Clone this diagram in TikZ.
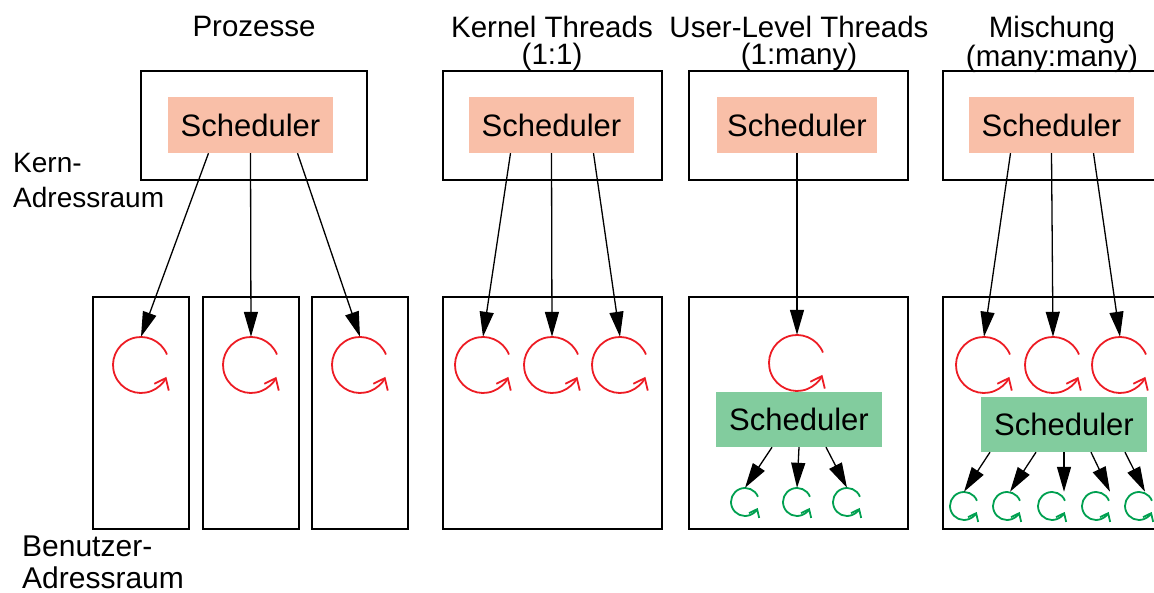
\documentclass[tikz,border=0pt]{standalone}
\usepackage{fontspec}
\setmainfont{Liberation Sans}
\usetikzlibrary{arrows.meta,calc}
\definecolor{kernfill}{RGB}{249,191,168}
\definecolor{userfill}{RGB}{130,204,158}
\definecolor{thrred}{RGB}{237,28,36}
\definecolor{thrgreen}{RGB}{0,160,80}
\tikzset{
  raum/.style={draw, line width=1.5pt, inner sep=0pt},
  kbox/.style={raum, minimum height=109pt},
  ubox/.style={raum, minimum height=232pt},
  ksched/.style={fill=kernfill, minimum width=165pt, minimum height=56pt, inner sep=0pt, font=\fontsize{31}{31}\selectfont},
  usched/.style={fill=userfill, minimum width=166pt, minimum height=55pt, inner sep=0pt, font=\fontsize{31}{31}\selectfont},
  kthr/.style={circle, inner sep=0pt, minimum size=56pt},
  uthr/.style={circle, inner sep=0pt, minimum size=28pt},
  conn/.style={line width=1.3pt, -{Triangle[length=25pt,width=14pt]}},
  titel/.style={align=center, anchor=north, inner sep=0pt, font=\fontsize{29.5}{27}\selectfont},
}
% kreis mit pfeil fuer einen thread: knoten, radius, farbe, spitze
\newcommand{\thrloop}[4]{%
  \draw[#3, line width=1.8pt, -{Straight Barb[length=#4,width=1.6*#4]}]
    ($(#1.center)+(22:#2)$) arc[start angle=22, end angle=335, radius=#2];}

\begin{document}
\begin{tikzpicture}[x=1pt,y=1pt]
\clip (0,0) rectangle (1154,593);

% titel
\node[titel] (tp) at (254,577) {Prozesse};
\node[titel] (tk) at (552,577) {Kernel Threads\\(1:1)};
\node[titel] (tu) at (799,577) {User-Level Threads\\(1:many)};
\node[titel] (tm) at (1052,577) {Mischung\\(many:many)};

\node[align=left, anchor=north west, inner sep=0pt, font=\fontsize{28}{35}\selectfont] (kr) at (13,440) {Kern-\\Adressraum};
\node[align=left, anchor=north west, inner sep=0pt, font=\fontsize{30}{32}\selectfont] (br) at (22,57) {Benutzer-\\Adressraum};

% kern-adressraum
\node[kbox, minimum width=226pt] (k1) at (254,467.5) {};
\node[kbox, minimum width=219pt] (k2) at (552.5,467.5) {};
\node[kbox, minimum width=219pt] (k3) at (798.5,467.5) {};
\node[kbox, minimum width=219pt] (k4) at (1052.5,467.5) {};

\node[ksched] (s1) at (250.5,468) {Scheduler};
\node[ksched] (s2) at (551.5,468) {Scheduler};
\node[ksched, minimum width=160pt] (s3) at (797,468) {Scheduler};
\node[ksched] (s4) at (1051.5,468) {Scheduler};

% benutzer-adressraum
\node[ubox, minimum width=96pt] (u1a) at (141,180) {};
\node[ubox, minimum width=96pt] (u1b) at (251,180) {};
\node[ubox, minimum width=96pt] (u1c) at (360,180) {};
\node[ubox, minimum width=219pt] (u2) at (552.5,180) {};
\node[ubox, minimum width=219pt] (u3) at (798.5,180) {};
\node[ubox, minimum width=219pt] (u4) at (1052.5,180) {};

\node[usched] (g3) at (799,173.5) {Scheduler};
\node[usched] (g4) at (1064,168.5) {Scheduler};

% threads
\node[kthr] (t1a) at (141,228) {};
\node[kthr] (t1b) at (251,228) {};
\node[kthr] (t1c) at (360,228) {};
\node[kthr] (t2a) at (483,228) {};
\node[kthr] (t2b) at (552,228) {};
\node[kthr] (t2c) at (620,228) {};
\node[kthr] (t3) at (797,230) {};
\node[kthr] (t4a) at (984,228) {};
\node[kthr] (t4b) at (1053,228) {};
\node[kthr] (t4c) at (1120,228) {};
\foreach \t in {t1a,t1b,t1c,t2a,t2b,t2c,t3,t4a,t4b,t4c}
  \thrloop{\t}{28}{thrred}{10pt};

\node[uthr] (g3a) at (745,91) {};
\node[uthr] (g3b) at (797,91) {};
\node[uthr] (g3c) at (847,91) {};
\node[uthr] (g4a) at (964,87) {};
\node[uthr] (g4b) at (1007,87) {};
\node[uthr] (g4c) at (1052,87) {};
\node[uthr] (g4d) at (1096,87) {};
\node[uthr] (g4e) at (1139,87) {};
\foreach \t in {g3a,g3b,g3c,g4a,g4b,g4c,g4d,g4e}
  \thrloop{\t}{14}{thrgreen}{7pt};

% verbindungen
\draw[conn] ([xshift=-42pt]s1.south) -- (t1a.north);
\draw[conn] (s1.south) -- (t1b.north);
\draw[conn] ([xshift=47pt]s1.south) -- (t1c.north);
\draw[conn] ([xshift=-41pt]s2.south) -- (t2a.north);
\draw[conn] (s2.south) -- (t2b.north);
\draw[conn] ([xshift=42pt]s2.south) -- (t2c.north);
\draw[conn] (s3.south) -- (t3.north);
\draw[conn] ([xshift=-41pt]s4.south) -- (t4a.north);
\draw[conn] (s4.south) -- (t4b.north);
\draw[conn] ([xshift=42pt]s4.south) -- (t4c.north);

\draw[conn] ([xshift=-27pt]g3.south) -- (g3a.north);
\draw[conn] (g3.south) -- (g3b.north);
\draw[conn] ([xshift=27pt]g3.south) -- (g3c.north);
\draw[conn] ([xshift=-74pt]g4.south) -- (g4a.north);
\draw[conn] ([xshift=-28pt]g4.south) -- ([xshift=3pt]g4b.north);
\draw[conn] (g4.south) -- ([xshift=12pt]g4c.north);
\draw[conn] ([xshift=27pt]g4.south) -- ([xshift=14pt]g4d.north);
\draw[conn] ([xshift=61pt]g4.south) -- ([xshift=6pt]g4e.north);

\end{tikzpicture}
\end{document}
